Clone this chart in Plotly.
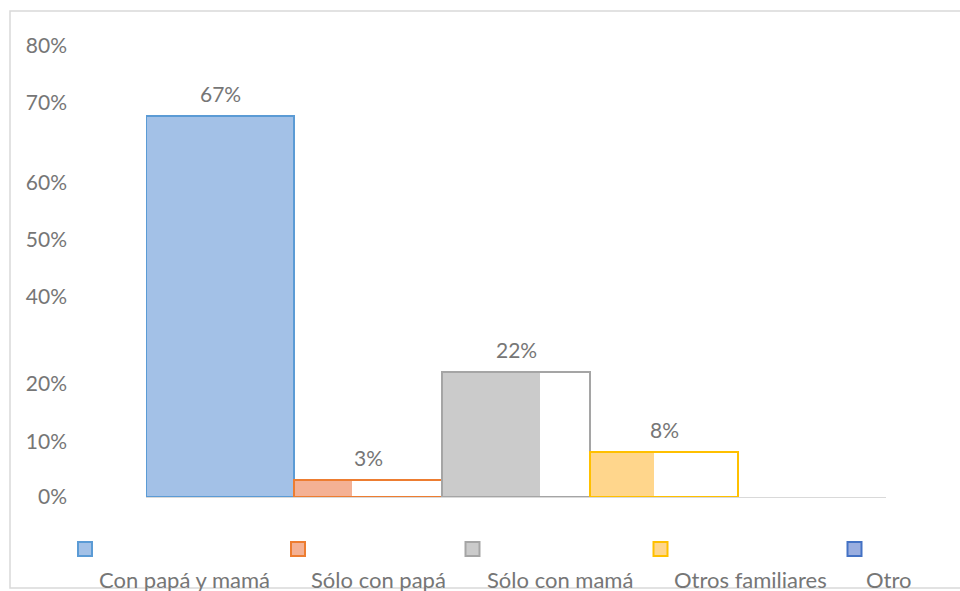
import plotly.graph_objects as go

categories = ["Con papá y mamá", "Sólo con papá", "Sólo con mamá", "Otros familiares", "Otro"]
values = [67, 3, 22, 8, 0]
value_labels = ["67%", "3%", "22%", "8%", ""]
tick_vals = [0, 9.8, 19.9, 35.3, 45.2, 55.2, 69.4, 79.4]
tick_text = ["0%", "10%", "20%", "40%", "50%", "60%", "70%", "80%"]

# styles
border_colors = ["#5b9bd5", "#ed7d31", "#a5a5a5", "#ffc000", "#4472c4"]
fill_colors = ["#a3c1e7", "#f4b194", "#cbcbcb", "#ffd68c", "#9aaee0"]
fill_fraction = [1.0, 0.39, 0.66, 0.43, 1.0]
label_px = [184.5, 378, 560, 750, 889]
square_px = [85, 298, 472.5, 660.5, 854.5]

FONT = "Lato"
TXT = "#767676"
L, R, T, B = 146, 886, 42, 497
W = R - L
H = B - T


def px_x(p):
    return (p - L) / W


def px_y(p):
    return (B - p) / H


idx = list(range(len(categories)))
line_widths = [2 if v > 0 else 0 for v in values]
fig = go.Figure()
fig.add_trace(go.Bar(
    x=idx, y=values, width=fill_fraction, offset=-0.5,
    marker=dict(color=fill_colors, line=dict(width=0)),
    hoverinfo="skip", showlegend=False,
))
fig.add_trace(go.Bar(
    x=idx, y=values, width=1, offset=-0.5,
    marker=dict(color="rgba(0,0,0,0)", line=dict(color=border_colors, width=line_widths)),
    customdata=categories, hovertemplate="%{customdata}: %{y}%<extra></extra>",
    showlegend=False,
))

annotations = []
for i, v, t in zip(idx, values, value_labels):
    if t:
        annotations.append(dict(x=i, y=v, text=t, showarrow=False, yanchor="bottom",
                                yshift=8, font=dict(family=FONT, size=21, color=TXT)))
shapes = []
for c, lp, sp, bc, fc in zip(categories, label_px, square_px, border_colors, fill_colors):
    annotations.append(dict(x=px_x(lp), y=px_y(579), xref="paper", yref="paper",
                            text=c, showarrow=False, xanchor="center", yanchor="middle",
                            font=dict(family=FONT, size=22, color=TXT)))
    shapes.append(dict(type="rect", xref="paper", yref="paper",
                       x0=px_x(sp - 7), x1=px_x(sp + 7), y0=px_y(556), y1=px_y(542),
                       fillcolor=fc, line=dict(color=bc, width=2)))
shapes.append(dict(type="rect", xref="paper", yref="paper",
                   x0=px_x(10), x1=px_x(962), y0=px_y(588), y1=px_y(11),
                   line=dict(color="#d9d9d9", width=1.5), fillcolor="rgba(0,0,0,0)",
                   layer="below"))

fig.update_layout(
    width=960, height=591,
    margin=dict(l=L, r=960 - R, t=T, b=591 - B),
    paper_bgcolor="white", plot_bgcolor="white",
    barmode="overlay", bargap=0,
    font=dict(family=FONT, size=21, color=TXT),
    xaxis=dict(range=[-0.5, 4.5], showticklabels=False, showgrid=False, zeroline=False,
               showline=True, linecolor="#d9d9d9", linewidth=1, ticks=""),
    yaxis=dict(range=[0, 80], tickvals=tick_vals, ticktext=tick_text, showgrid=False,
               zeroline=False, showline=False, ticks="", ticklabelstandoff=78,
               tickfont=dict(family=FONT, size=21, color=TXT)),
    annotations=annotations, shapes=shapes,
)
fig.write_html("out.html", config={"displayModeBar": False},
               post_script="document.body.style.margin='0';document.body.style.overflow='hidden';")
